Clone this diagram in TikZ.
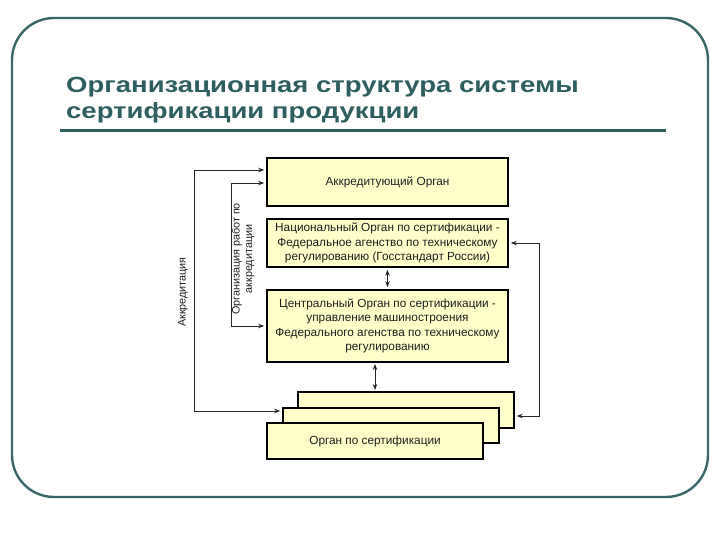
\documentclass[tikz,border=0pt]{standalone}
\usepackage{fontspec}
\setmainfont{Liberation Sans}
\newfontfamily\titlefont{Liberation Sans}[FakeStretch=1.25]
\usetikzlibrary{arrows.meta,calc}
\definecolor{teal1}{RGB}{46,94,94}
\definecolor{frameC}{RGB}{58,104,104}
\definecolor{boxfill}{RGB}{255,255,204}
\definecolor{txt}{RGB}{30,30,30}
\tikzset{
  orgbox/.style={draw=black, line width=1.6pt, fill=boxfill, inner sep=0pt, align=center,
    text=txt, font=\fontsize{11.8}{14.5}\selectfont},
  biconn/.style={line width=0.8pt, draw=black!85, {Stealth[length=6pt,width=4.5pt]}-{Stealth[length=6pt,width=4.5pt]}, shorten >=2pt, shorten <=2pt},
  sidelab/.style={rotate=90, align=center, text=txt, font=\fontsize{10.8}{12.5}\selectfont, inner sep=0pt},
  titletext/.style={anchor=base west, inner sep=0pt, text=teal1, font=\fontsize{22}{25}\titlefont\bfseries}
}
\begin{document}
\begin{tikzpicture}[x=1pt,y=-1pt]
\useasboundingbox (0,0) rectangle (720,540);
% frame
\draw[frameC, line width=2.4pt, rounded corners=42pt] (12,18) rectangle (708,497);
% title
\node[titletext] (title1) at (66,93) {Организационная структура системы};
\node[titletext] (title2) at (66,119) {сертификации продукции};
\draw[teal1, line width=3pt] (60,131) -- (666,131);
% boxes
\node[orgbox, minimum width=241pt, minimum height=48pt] (b1) at (387.5,182) {Аккредитующий Орган};
\node[orgbox, minimum width=241pt, minimum height=48pt] (b2) at (387.5,243)
  {Национальный Орган по сертификации -\\Федеральное агенство по техническому\\регулированию (Госстандарт России)};
\node[orgbox, minimum width=241pt, minimum height=72pt] (b3) at (387.5,326)
  {Центральный Орган по сертификации -\\управление машиностроения\\Федерального агенства по техническому\\регулированию};
\node[orgbox, minimum width=216pt, minimum height=36pt] (back) at (406,410) {};
\node[orgbox, minimum width=216pt, minimum height=35pt] (mid) at (391,425.5) {};
\node[orgbox, minimum width=216pt, minimum height=36pt] (front) at (375,441) {Орган по сертификации};
% vertical double arrows
\draw[biconn] (b2.south) -- (b3.north);
\coordinate (lowtop) at (375,362);
\coordinate (lowbot) at (375,392);
\draw[biconn] (lowtop) -- (lowbot);
% left outer connector
\coordinate (o1) at (194,170);
\coordinate (o2) at (194,411);
\coordinate (o1e) at (b1.west |- o1);
\coordinate (o2e) at (mid.west |- o2);
\draw[biconn] (o1e) -- (o1) -- (o2) -- (o2e);
% inner connector
\coordinate (i1) at (231,183);
\coordinate (i2) at (231,326);
\coordinate (i1e) at (b1.west |- i1);
\coordinate (i2e) at (b3.west |- i2);
\draw[biconn] (i1e) -- (i1) -- (i2) -- (i2e);
% right connector
\coordinate (r1) at (539,243);
\coordinate (r2) at (539,416);
\coordinate (r2e) at (back.east |- r2);
\draw[biconn] (b2.east) -- (r1) -- (r2) -- (r2e);
% side labels
\node[sidelab] (lab1) at (183,292) {Аккредитация};
\node[sidelab] (lab2) at (243,259) {Организация работ по\\аккредитации};
\end{tikzpicture}
\end{document}
